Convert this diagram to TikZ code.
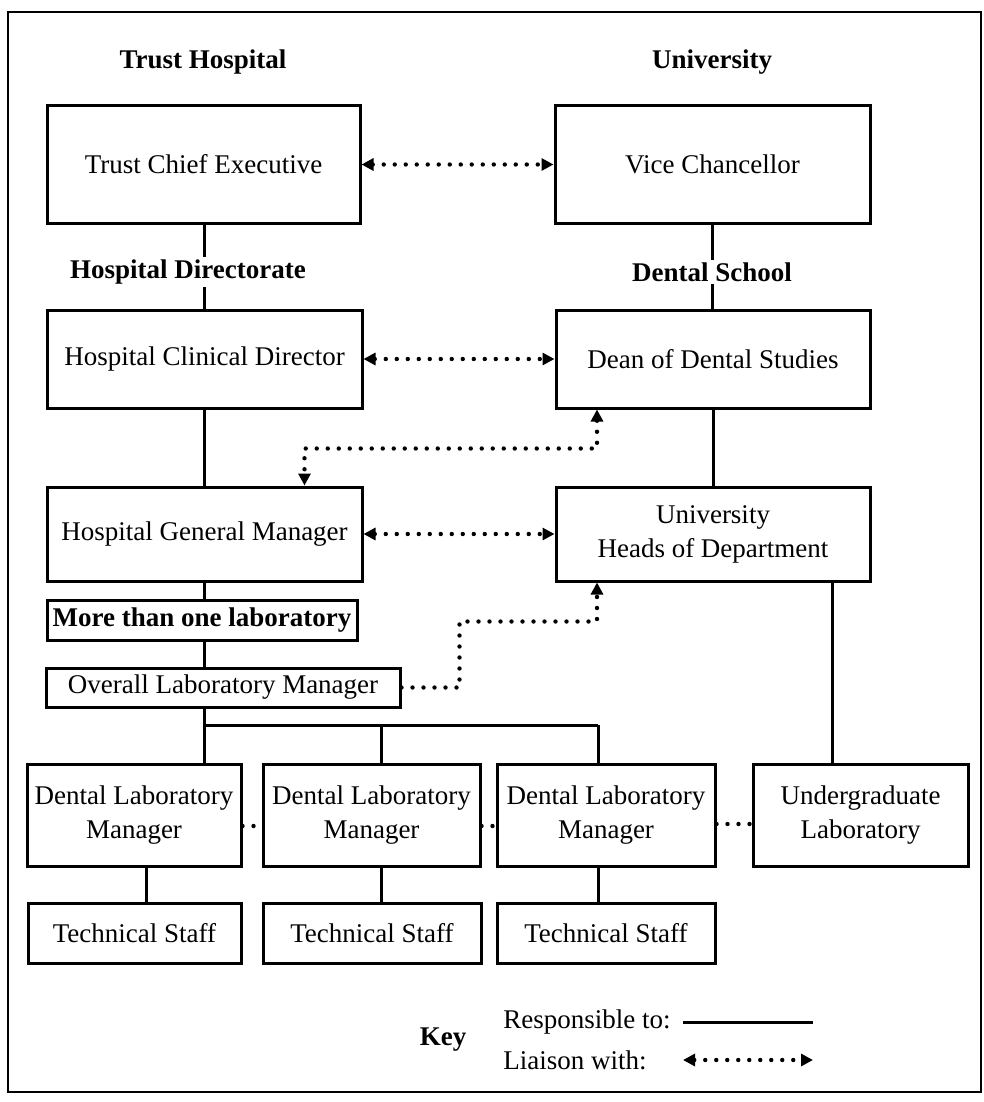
\documentclass[tikz,border=0pt]{standalone}
\usepackage{fontspec}
\setmainfont{Liberation Serif}
\usetikzlibrary{arrows.meta}
\begin{document}
\begin{tikzpicture}[x=0.5pt,y=-0.5pt,
  txt/.style={font={\fontsize{13.5}{17}\selectfont}, align=center, inner sep=0pt},
  head/.style={txt, font={\fontsize{13.5}{17}\selectfont\bfseries}},
  unit/.style={txt, draw, line width=1.5pt},
  resp/.style={line width=1.5pt},
  dots/.style={line width=2.2pt, line cap=round, dash pattern=on 0pt off 5.5pt},
  liaison/.style={dots, {Triangle[length=6pt,width=6pt]}-{Triangle[length=6pt,width=6pt]}},
  liaisonto/.style={dots, -{Triangle[length=6pt,width=6pt]}}]
\useasboundingbox (0,0) rectangle (984,1102);
% outer frame
\draw[line width=1.3pt] (8,12) rectangle (981,1092);

% column headings
\node[head] (th)  at (203,62) {Trust Hospital};
\node[head] (uni) at (712,62) {University};

% top level
\node[unit, minimum width=156.5pt, minimum height=58.5pt] (tce) at (203.5,164.5) {Trust Chief Executive};
\node[unit, minimum width=157.5pt, minimum height=58.5pt] (vc)  at (712.5,164.5) {Vice Chancellor};

% second level
\node[head, fill=white, inner sep=1pt] (hd) at (188,272) {Hospital Directorate};
\node[head, fill=white, inner sep=1pt] (ds) at (712,272) {Dental School};
\node[unit, minimum width=157.5pt, minimum height=49pt] (hcd)  at (204.5,359) {Hospital Clinical Director};
\node[unit, minimum width=157pt,   minimum height=49pt] (dean) at (713,359) {Dean of Dental Studies};

% third level
\node[unit, minimum width=157.5pt, minimum height=47pt] (hgm) at (204.5,534) {Hospital General Manager};
\node[unit, minimum width=157pt,   minimum height=47pt] (uhd) at (713,534) {University\\Heads of Department};

\node[unit, font={\fontsize{13.5}{17}\selectfont\bfseries}, minimum width=155pt, minimum height=20pt] (mtol) at (202,620) {More than one laboratory};
\node[unit, minimum width=177pt, minimum height=19.5pt] (olm) at (223,687.5) {Overall Laboratory Manager};

% laboratories
\node[unit, minimum width=107pt,   minimum height=51pt] (dlm1) at (134,815) {Dental Laboratory\\Manager};
\node[unit, minimum width=108.5pt, minimum height=51pt] (dlm2) at (371.5,815) {Dental Laboratory\\Manager};
\node[unit, minimum width=109pt,   minimum height=51pt] (dlm3) at (606,815) {Dental Laboratory\\Manager};
\node[unit, minimum width=107.5pt, minimum height=51pt] (ul)   at (860.5,815) {Undergraduate\\Laboratory};

\node[unit, minimum width=106.5pt, minimum height=30pt] (ts1) at (134.5,933) {Technical Staff};
\node[unit, minimum width=109pt,   minimum height=30pt] (ts2) at (372,933) {Technical Staff};
\node[unit, minimum width=109pt,   minimum height=30pt] (ts3) at (606,933) {Technical Staff};

% branch points of the laboratory bus
\coordinate (b1) at (204,725);
\coordinate (b2) at (381,725);
\coordinate (b3) at (598,725);

% responsible-to lines
\draw[resp] (tce.south -| hcd.north) -- (hd.north -| hcd.north);
\draw[resp] (hd.south -| hcd.north) -- (hcd.north);
\draw[resp] (vc.south) -- (ds.north -| vc.south);
\draw[resp] (ds.south -| vc.south) -- (dean.north -| vc.south);
\draw[resp] (hcd.south) -- (hgm.north);
\draw[resp] (dean.south) -- (uhd.north);
\draw[resp] (hgm.south -| b1) -- (mtol.north -| b1);
\draw[resp] (mtol.south -| b1) -- (olm.north -| b1);
\draw[resp] (olm.south -| b1) -- (b1) -- (b3);
\draw[resp] (b1) -- (dlm1.north -| b1);
\draw[resp] (b2) -- (dlm2.north -| b2);
\draw[resp] (b3) -- (dlm3.north -| b3);
\draw[resp] ([xshift=6pt]dlm1.south) -- ([xshift=6pt]dlm1.south |- ts1.north);
\draw[resp] (dlm2.south -| b2) -- (ts2.north -| b2);
\draw[resp] (dlm3.south -| b3) -- (ts3.north -| b3);
\draw[resp] ([xshift=-14pt]ul.north) -- ([xshift=-14pt]ul.north |- uhd.south);

% liaison lines
\draw[liaison] (tce) -- (vc);
\draw[liaison] (hcd) -- (dean);
\draw[liaison] (hgm) -- (uhd);
\draw[liaison] ([xshift=-58pt]dean.south) -- ++(0,39) -| ([xshift=50pt]hgm.north);
\draw[liaisonto] (olm.east) -- ++(58,0) -- ++(0,-66) -| ([xshift=-58pt]uhd.south);
\draw[dots] ([yshift=-5.5pt]dlm1.east) -- ([yshift=-5.5pt]dlm2.west);
\draw[dots] ([yshift=-5.5pt]dlm2.east) -- ([yshift=-5.5pt]dlm3.west);
\draw[dots] ([yshift=-4.5pt]dlm3.east) -- ([yshift=-4.5pt]ul.west);

% key
\node[head] (key) at (443,1040) {Key};
\node[txt, anchor=west] (krt) at (503,1022) {Responsible to:};
\node[txt, anchor=west] (klw) at (503,1060) {Liaison with:};
\coordinate (k1) at (683,1022);
\coordinate (k2) at (813,1022);
\coordinate (k3) at (683,1060);
\coordinate (k4) at (813,1060);
\draw[resp] (k1) -- (k2);
\draw[liaison] (k3) -- (k4);
\end{tikzpicture}
\end{document}
